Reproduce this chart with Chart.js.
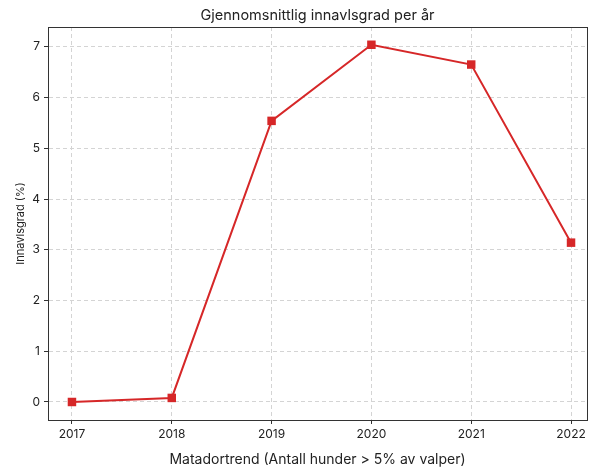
<!DOCTYPE html>
<html>
<head>
<meta charset="utf-8">
<script src="https://cdn.jsdelivr.net/npm/chart.js@4"></script>
<style>
  html, body { margin: 0; padding: 0; background: #fff; }
  #wrap { width: 597px; height: 469px; }
</style>
</head>
<body>
<div id="wrap"><canvas id="chart" width="597" height="469"></canvas></div>
<script>
// --- Data ---
const years = [2017, 2018, 2019, 2020, 2021, 2022];
const innavlsgrad = [0.0, 0.08, 5.54, 7.04, 6.65, 3.14];
const yTicks = [0, 1, 2, 3, 4, 5, 6, 7];

const FONT = 'Inter, "DejaVu Sans", sans-serif';
const RED = '#d62728';

// --- Frame (top/right spines) ---
const framePlugin = {
    id: 'frame',
    afterDraw: (chart) => {
        const { ctx, chartArea: a } = chart;
        ctx.save();
        ctx.strokeStyle = '#333';
        ctx.lineWidth = 1;
        ctx.strokeRect(a.left + 0.5, a.top + 0.5, a.right - a.left, a.bottom - a.top);
        ctx.restore();
    }
};

const data = years.map((y, i) => ({ x: y, y: innavlsgrad[i] }));

new Chart(document.getElementById('chart').getContext('2d'), {
    type: 'line',
    data: {
        datasets: [{
            data,
            borderColor: RED,
            backgroundColor: RED,
            borderWidth: 2,
            pointStyle: 'rect',
            pointRadius: 6,
            pointBorderWidth: 0,
            tension: 0
        }]
    },
    options: {
        responsive: false,
        animation: false,
        layout: { padding: { top: 27, right: 10, left: 0, bottom: 0 } },
        plugins: {
            legend: { display: false },
            tooltip: { enabled: false },
            title: { display: false }
        },
        scales: {
            x: {
                type: 'linear',
                min: 2016.76,
                max: 2022.16,
                afterBuildTicks: (s) => { s.ticks = years.map(v => ({ value: v })); },
                afterFit: (s) => { s.height = 49; },
                ticks: {
                    color: '#222',
                    font: { family: FONT, size: 12 },
                    padding: 3,
                    callback: (v) => String(v)
                },
                grid: { color: '#d4d4d4', tickColor: '#333', tickLength: 4 },
                border: { color: '#333', width: 1, dash: [4, 3] },
                title: {
                    display: true,
                    text: 'Matadortrend (Antall hunder > 5% av valper)',
                    color: '#222',
                    font: { family: FONT, size: 14 },
                    padding: { top: 8, bottom: 1 }
                }
            },
            y: {
                min: -0.355,
                max: 7.39,
                afterBuildTicks: (s) => { s.ticks = yTicks.map(v => ({ value: v })); },
                afterFit: (s) => { s.width = 48; },
                ticks: {
                    color: '#222',
                    font: { family: FONT, size: 12 },
                    padding: 4
                },
                grid: { color: '#d4d4d4', tickColor: '#333', tickLength: 4 },
                border: { color: '#333', width: 1, dash: [4, 3] },
                title: {
                    display: true,
                    text: 'Innavlsgrad (%)',
                    color: '#222',
                    font: { family: FONT, size: 11 },
                    padding: { top: 14, bottom: 0 }
                }
            }
        }
    },
    plugins: [framePlugin, {
        id: 'chartTitle',
        afterDraw: (chart) => {
            const { ctx, chartArea: a } = chart;
            ctx.save();
            ctx.fillStyle = '#222';
            ctx.font = '14.5px ' + FONT;
            ctx.textAlign = 'center';
            ctx.textBaseline = 'middle';
            ctx.fillText('Gjennomsnittlig innavlsgrad per år', (a.left + a.right) / 2, 16);
            ctx.restore();
        }
    }]
});
</script>
</body>
</html>
